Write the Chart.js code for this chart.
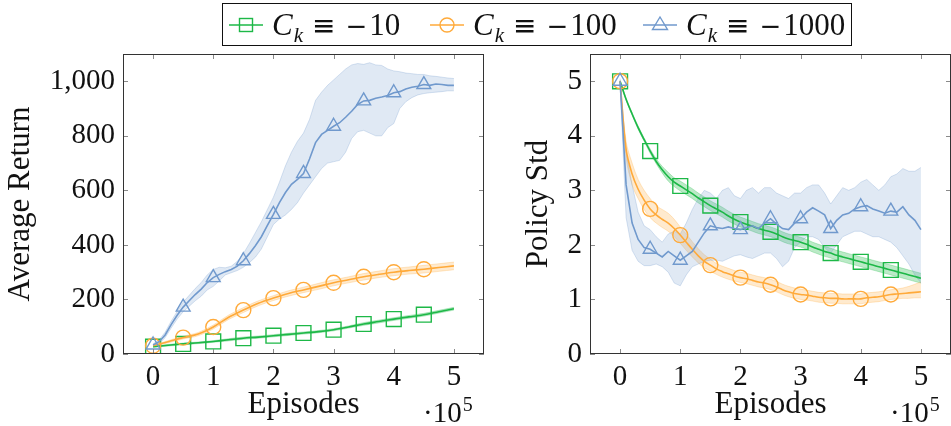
<!DOCTYPE html>
<html>
<head>
<meta charset="utf-8">
<script src="https://cdn.jsdelivr.net/npm/chart.js@4.4.1/dist/chart.umd.min.js"></script>
<style>
  body { margin: 0; background: #fff; width: 951px; height: 426px; overflow: hidden; position: relative; font-family: 'Liberation Serif', 'Times New Roman', Tinos, Times, serif; color: #111; }
  canvas { position: absolute; top: 0; }
  #legend { position: absolute; left: 222px; top: 3px; width: 630px; height: 43px; box-sizing: border-box; border: 1px solid #111; background: #fff; z-index: 2; }
  .item { position: absolute; top: 0; height: 41px; display: flex; align-items: center; font-size: 31px; white-space: nowrap; }
  .item svg { margin-right: 9px; }
  .item sub { font-size: 21px; vertical-align: -7px; line-height: 0; margin-left: 1px; }
  .item .op { margin: 0 10px 0 9px; font-family: 'DejaVu Sans', sans-serif; font-size: 28px; }
  .item .mi { font-family: 'DejaVu Sans', sans-serif; font-size: 26px; margin-right: 2px; }
</style>
</head>
<body>
<div id="legend"></div>
<canvas id="ret" width="490" height="426" style="left:0"></canvas>
<canvas id="std" width="433" height="426" style="left:518px"></canvas>
<script>
// x values in units of 1e5 episodes
const epFine = [0,0.1,0.2,0.3,0.4,0.5,0.6,0.7,0.8,0.9,1,1.1,1.2,1.3,1.4,1.5,1.6,1.7,1.8,1.9,2,2.1,2.2,2.3,2.4,2.5,2.6,2.7,2.8,2.9,3,3.1,3.2,3.3,3.4,3.5,3.6,3.7,3.8,3.9,4,4.1,4.2,4.3,4.4,4.5,4.6,4.7,4.8,4.9,5];
const epCoarse = [0,0.25,0.5,0.75,1,1.25,1.5,1.75,2,2.25,2.5,2.75,3,3.25,3.5,3.75,4,4.25,4.5,4.75,5];
const xTicks = [0, 1, 2, 3, 4, 5];
const retTicks = [0, 200, 400, 600, 800, 1000];
const stdTicks = [0, 1, 2, 3, 4, 5];
const legendLabels = ['10', '100', '1000'];

// Average Return, C_k = -1000 (fine grid)
const retBlueMean = [33,45,70,108,142,172,195,218,238,262, 280,292,302,310,322,342,368,397,430,472, 512,555,592,622,640,662,715,775,805,820, 835,848,868,890,915,928,930,938,942,948, 958,962,972,978,982,988,985,990,988,985, 985];
const retBlueLo = [28,38,60,95,128,155,175,195,212,235, 248,268,290,298,306,318,335,355,385,430, 475,495,510,530,555,590,620,650,680,700, 705,710,740,790,815,820,810,800,800,830, 845,900,925,940,950,955,958,960,962,965, 965];
const retBlueHi = [38,52,80,120,156,190,215,240,262,290, 310,318,316,322,340,368,405,445,485,530, 575,630,690,740,780,810,860,930,960,985, 1005,1025,1045,1060,1065,1062,1068,1060,1058,1045, 1038,1035,1030,1028,1025,1025,1020,1018,1015,1012, 1010];
// Average Return, C_k = -100 (coarse grid)
const retOrangeMean = [30,45,60,73,99,134,161,186,205,222,235,248,261,272,283,292,300,306,311,317,323];
const retOrangeLo = [28,41,55,67,92,126,152,177,196,212,225,237,250,261,271,280,287,293,297,303,309];
const retOrangeHi = [32,49,65,79,106,142,170,195,214,232,245,259,272,283,295,304,313,319,325,331,337];
// Average Return, C_k = -10 (coarse grid)
const retGreenMean = [27,32,37,41,46,52,58,62,67,72,77,82,89,99,110,119,128,136,144,155,166];
const retGreenLo = [25,29,34,38,43,48,54,58,63,68,73,78,85,95,105,114,123,131,139,150,161];
const retGreenHi = [29,35,40,44,49,56,62,66,71,76,81,86,93,103,115,124,133,141,149,160,171];

// Policy Std (fine grid)
const stdBlueMean = [5.00,3.10,2.40,2.10,1.95,1.92,1.85,1.78,1.88,1.80, 1.72,1.80,1.88,2.05,2.22,2.35,2.32,2.30,2.33,2.30, 2.28,2.32,2.35,2.30,2.40,2.48,2.38,2.30,2.28,2.40, 2.48,2.60,2.68,2.62,2.55,2.30,2.45,2.55,2.58,2.66, 2.70,2.72,2.66,2.62,2.58,2.62,2.60,2.70,2.55,2.45, 2.28];
const stdBlueLo = [4.95,2.50,1.90,1.70,1.62,1.62,1.65,1.60,1.50,1.30, 1.25,1.45,1.60,1.65,1.70,1.72,1.72,1.70,1.75,1.80, 1.82,1.78,1.75,1.80,1.85,1.85,1.75,1.60,1.70,1.95, 2.05,2.15,2.15,2.10,1.95,1.85,2.00,2.15,2.20,2.25, 2.25,2.20,2.15,2.15,2.10,2.05,1.95,1.80,1.65,1.45, 1.30];
const stdBlueHi = [5.05,3.70,3.10,2.60,2.35,2.28,2.15,2.05,2.20,2.25, 2.20,2.40,2.65,2.85,3.00,2.95,2.85,3.00,3.05,2.90, 2.85,3.00,3.05,2.95,3.05,3.05,2.95,2.90,2.85,2.95, 2.95,3.05,3.10,3.10,2.95,2.75,2.90,3.05,3.00,3.05, 3.15,3.20,3.10,3.00,3.10,3.25,3.30,3.40,3.35,3.35, 3.42];
const stdOrangeMean = [5.00,3.75,3.30,3.02,2.82,2.66,2.55,2.47,2.40,2.30, 2.18,2.05,1.92,1.80,1.70,1.63,1.56,1.51,1.47,1.43, 1.40,1.38,1.35,1.32,1.30,1.27,1.23,1.18,1.14,1.11, 1.09,1.08,1.06,1.04,1.03,1.02,1.02,1.01,1.01,1.01, 1.01,1.03,1.04,1.05,1.07,1.09,1.10,1.11,1.12,1.13, 1.14];
const stdOrangeLo = [4.98,3.60,3.10,2.85,2.65,2.50,2.40,2.32,2.25,2.15, 2.03,1.90,1.78,1.67,1.58,1.52,1.46,1.41,1.37,1.34, 1.31,1.29,1.26,1.23,1.21,1.18,1.14,1.09,1.05,1.02, 1.00,0.99,0.97,0.95,0.94,0.93,0.93,0.92,0.92,0.92, 0.92,0.94,0.95,0.96,0.98,1.00,1.01,1.02,1.02,1.03, 1.03];
const stdOrangeHi = [5.02,3.90,3.50,3.20,3.00,2.85,2.72,2.65,2.58,2.47, 2.33,2.20,2.06,1.93,1.82,1.74,1.66,1.61,1.57,1.53, 1.50,1.48,1.45,1.42,1.40,1.37,1.33,1.28,1.24,1.21, 1.19,1.17,1.15,1.13,1.12,1.11,1.11,1.10,1.10,1.10, 1.10,1.12,1.13,1.14,1.16,1.18,1.19,1.21,1.24,1.28, 1.32];
const stdGreenMean = [5.00,4.67,4.40,4.15,3.93,3.72,3.53,3.38,3.25,3.15, 3.08,3.01,2.94,2.86,2.79,2.72,2.66,2.60,2.53,2.47, 2.42,2.38,2.34,2.30,2.27,2.24,2.20,2.15,2.11,2.08, 2.05,2.01,1.96,1.92,1.88,1.85,1.81,1.78,1.75,1.72, 1.69,1.66,1.63,1.60,1.57,1.54,1.51,1.48,1.45,1.42, 1.39];
const stdGreenLo = [4.98,4.65,4.38,4.12,3.90,3.68,3.49,3.32,3.17,3.07, 2.99,2.92,2.85,2.77,2.70,2.63,2.57,2.51,2.44,2.38, 2.33,2.29,2.25,2.21,2.18,2.15,2.11,2.06,2.02,1.99, 1.96,1.92,1.87,1.83,1.79,1.76,1.72,1.69,1.66,1.63, 1.60,1.57,1.54,1.51,1.48,1.45,1.42,1.39,1.36,1.33, 1.30];
const stdGreenHi = [5.02,4.69,4.42,4.18,3.96,3.76,3.58,3.44,3.33,3.23, 3.17,3.10,3.03,2.95,2.88,2.81,2.75,2.69,2.62,2.56, 2.51,2.47,2.43,2.39,2.36,2.33,2.29,2.24,2.20,2.17, 2.14,2.10,2.05,2.01,1.97,1.94,1.90,1.87,1.84,1.81, 1.78,1.75,1.72,1.69,1.66,1.63,1.60,1.57,1.54,1.51, 1.48];

const GREEN = '#1db847', ORANGE = '#ffaa3a', BLUE = '#7099cd';
const styles = [
  {color: GREEN, band: 'rgba(29,184,71,0.30)', edge: 'rgba(29,184,71,0.35)', point: 'rect', r: 10.5},
  {color: ORANGE, band: 'rgba(255,170,58,0.25)', edge: 'rgba(255,170,58,0.35)', point: 'circle', r: 7.5},
  {color: BLUE, band: 'rgba(112,153,205,0.22)', edge: 'rgba(112,153,205,0.35)', point: 'triangle', r: 8}
];

const FONT = "'Liberation Serif', 'Times New Roman', Tinos, Times, serif";
Chart.defaults.font.family = FONT;
Chart.defaults.color = '#111';

// markers every 0.5e5 episodes, like pgfplots mark repeat
function isMark(x) {
  const m = Math.round(x * 2);
  return Math.abs(x * 2 - m) < 1e-6 && x < 4.9;
}

function series(xs, mean, lo, hi, st, smooth) {
  const pts = ys => xs.map((x, i) => ({x: x, y: ys[i]}));
  const line = {
    data: pts(mean), borderColor: st.color, borderWidth: 1.6, tension: smooth ? 0.35 : 0,
    pointStyle: st.point, pointRadius: c => isMark(c.raw.x) ? st.r : 0,
    pointBorderColor: st.color, pointBackgroundColor: 'rgba(0,0,0,0)', pointBorderWidth: 1.4,
    fill: false, order: 0
  };
  const low = { data: pts(lo), borderColor: st.edge, borderWidth: 0.8, pointRadius: 0, tension: smooth ? 0.35 : 0, fill: false, order: 5 };
  const high = { data: pts(hi), borderColor: st.edge, borderWidth: 0.8, pointRadius: 0, tension: smooth ? 0.35 : 0, fill: '-1', backgroundColor: st.band, order: 5 };
  return [line, low, high];
}

const frame = {
  id: 'frame',
  afterDraw(chart) {
    const {ctx, chartArea: a, scales: {x, y}} = chart;
    ctx.save();
    ctx.strokeStyle = '#8a8a8a';
    ctx.lineWidth = 1;
    ctx.beginPath();
    x.ticks.forEach(t => {
      const p = Math.round(x.getPixelForValue(t.value)) + 0.5;
      ctx.moveTo(p, a.top); ctx.lineTo(p, a.top + 5);
      ctx.moveTo(p, a.bottom); ctx.lineTo(p, a.bottom - 5);
    });
    y.ticks.forEach(t => {
      const p = Math.round(y.getPixelForValue(t.value)) + 0.5;
      ctx.moveTo(a.left, p); ctx.lineTo(a.left + 5, p);
      ctx.moveTo(a.right, p); ctx.lineTo(a.right - 5, p);
    });
    ctx.stroke();
    ctx.strokeStyle = '#333';
    ctx.strokeRect(Math.round(a.left) + 0.5, Math.round(a.top) + 0.5, Math.round(a.right - a.left) - 1, Math.round(a.bottom - a.top) - 1);
    // axis multiplier
    ctx.fillStyle = '#111';
    ctx.textBaseline = 'alphabetic';
    ctx.textAlign = 'left';
    const x0 = a.right - 61;
    ctx.font = '29px ' + FONT;
    ctx.fillText('\u00b710', x0, 422);
    const w = ctx.measureText('\u00b710').width;
    ctx.font = '20px ' + FONT;
    ctx.fillText('5', x0 + w + 1, 411);
    ctx.restore();
  }
};

function makeChart(id, datasets, yMax, yTicks, yTitle, yWidth, padRight, fmt) {
  return new Chart(document.getElementById(id), {
    type: 'line',
    data: { datasets: datasets },
    options: {
      responsive: false, animation: false, events: [],
      layout: { autoPadding: false, padding: { top: 54, right: padRight, left: 0, bottom: 0 } },
      plugins: { legend: { display: false }, tooltip: { enabled: false } },
      scales: {
        x: {
          type: 'linear', min: -0.5, max: 5.5,
          afterBuildTicks: s => { s.ticks = xTicks.map(v => ({value: v})); },
          afterFit: s => { s.height = 72; },
          grid: { display: false, drawTicks: false }, border: { display: false },
          ticks: { font: { size: 29 }, padding: 6, maxRotation: 0 },
          title: { display: true, text: 'Episodes', font: { size: 31 }, padding: { top: 0, bottom: 3 } }
        },
        y: {
          type: 'linear', min: 0, max: yMax,
          afterBuildTicks: s => { s.ticks = yTicks.map(v => ({value: v})); },
          afterFit: s => { s.width = yWidth; },
          grid: { display: false, drawTicks: false }, border: { display: false },
          ticks: { font: { size: 29 }, padding: 8, callback: fmt },
          title: { display: true, text: yTitle, font: { size: 31 }, padding: { top: 2, bottom: 0 } }
        }
      }
    },
    plugins: [frame]
  });
}

const retSets = [].concat(
  series(epFine, retBlueMean, retBlueLo, retBlueHi, styles[2], false),
  series(epCoarse, retOrangeMean, retOrangeLo, retOrangeHi, styles[1], true),
  series(epCoarse, retGreenMean, retGreenLo, retGreenHi, styles[0], true)
);
const stdSets = [].concat(
  series(epFine, stdBlueMean, stdBlueLo, stdBlueHi, styles[2], false),
  series(epFine, stdOrangeMean, stdOrangeLo, stdOrangeHi, styles[1], true),
  series(epFine, stdGreenMean, stdGreenLo, stdGreenHi, styles[0], true)
);

makeChart('ret', retSets, 1100, retTicks, 'Average Return', 123, 6, v => v.toLocaleString('en-US'));
makeChart('std', stdSets, 5.5, stdTicks, 'Policy Std', 72, 0, v => String(v));

// legend across both panels
const markerSvg = {
  rect: '<rect x="10.5" y="3.5" width="13" height="13"/>',
  circle: '<circle cx="17" cy="10" r="7"/>',
  triangle: '<polygon points="17,2 24.5,14.5 9.5,14.5"/>'
};
const legendLeft = [6, 207, 420];
const legend = document.getElementById('legend');
legendLabels.forEach((lab, i) => {
  const st = styles[i];
  const d = document.createElement('div');
  d.className = 'item';
  d.style.left = legendLeft[i] + 'px';
  d.innerHTML = '<svg width="34" height="20" viewBox="0 0 34 20"><line x1="0" y1="10" x2="34" y2="10" stroke="' + st.color + '" stroke-width="1.6"/>' +
    '<g fill="none" stroke="' + st.color + '" stroke-width="1.4">' + markerSvg[st.point] + '</g></svg>' +
    '<span><i>C</i><sub><i>k</i></sub><span class="op">\u2261</span><span class="mi">\u2212</span>' + lab + '</span>';
  legend.appendChild(d);
});
</script>
</body>
</html>
